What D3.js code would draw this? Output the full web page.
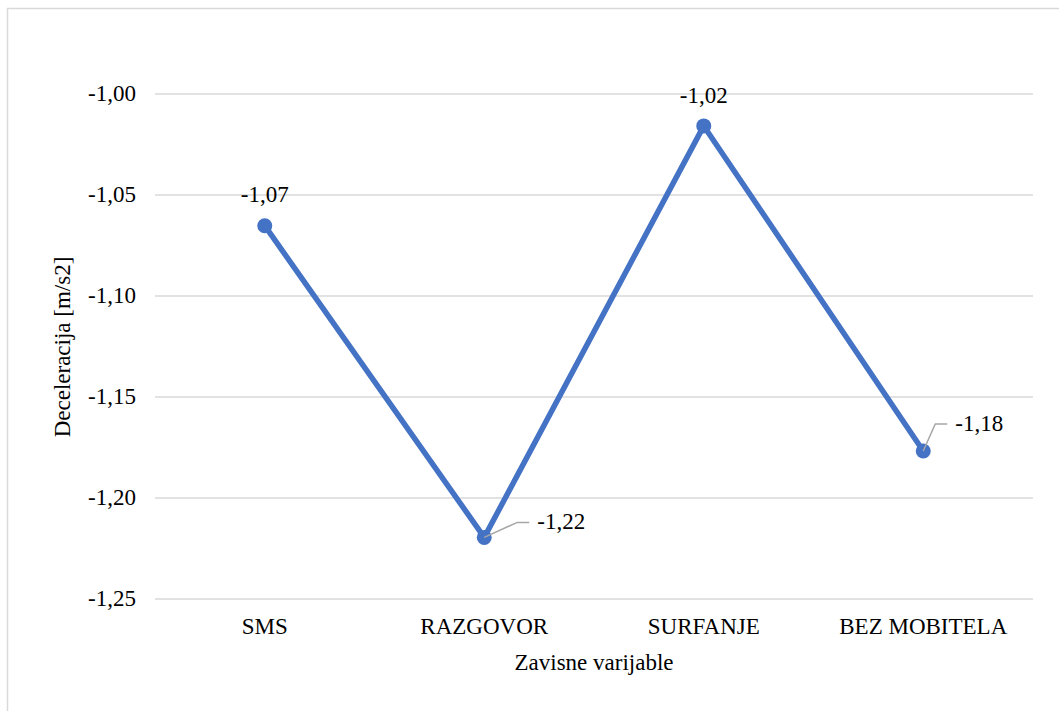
<!DOCTYPE html>
<html>
<head>
<meta charset="utf-8">
<script src="https://cdn.jsdelivr.net/npm/d3@7"></script>
<style>
  body { margin: 0; background: #fff; }
  #chart { position: relative; width: 1059px; height: 711px; overflow: hidden; }
  #chart svg { position: absolute; left: 0; top: 0; display: block; }
</style>
</head>
<body>
<div id="chart"></div>
<script>
'use strict';

// Chart data
const categories = ["SMS", "RAZGOVOR", "SURFANJE", "BEZ MOBITELA"];
const values = [-1.0652, -1.2195, -1.0158, -1.1767];
const yTicks = [-1.25, -1.20, -1.15, -1.10, -1.05, -1.00];
const xTitle = "Zavisne varijable";
const yTitle = "Deceleracija [m/s2]";

const width = 1059;
const height = 711;
const margin = {top: 94, right: 26, bottom: 112, left: 155};

const chart = d3.select("#chart");

const svg = chart.append("svg")
    .attr("width", width)
    .attr("height", height);

// text is laid out as html on top of the svg
const textLayer = chart.append("div")
    .style("position", "absolute")
    .style("left", "0px").style("top", "0px")
    .style("width", width + "px").style("height", height + "px");

// anchor: "start" | "middle" | "end"; y is the vertical centre of the text
function label(px, py, str, anchor, size, rot) {
  const tx = anchor === "end" ? "-100%" : anchor === "middle" ? "-50%" : "0";
  const el = textLayer.append("div")
      .style("position", "absolute")
      .style("white-space", "nowrap")
      .style("left", px + "px")
      .style("top", py + "px")
      .style("color", "#000")
      .style("transform", `translate(${tx},-50%)` + (rot ? ` rotate(${rot}deg)` : ""))
      .style("transform-origin", "50% 50%")
      .text(str);
  el.node().style.font = `${size}px "Liberation Serif"`;
  return el;
}

// outer chart border (cut off at right and bottom)
svg.append("rect")
    .attr("x", 7.5).attr("y", 8.5)
    .attr("width", width + 20).attr("height", height + 20)
    .attr("fill", "none")
    .attr("stroke", "#d9d9d9")
    .attr("stroke-width", 1.5);

const x = d3.scaleBand()
    .domain(categories)
    .range([margin.left, width - margin.right]);

const y = d3.scaleLinear()
    .domain([-1.25, -1.00])
    .range([height - margin.bottom, margin.top]);

const fmt = v => d3.format(".2f")(v).replace(".", ",").replace("−", "-");

// gridlines
svg.append("g")
  .selectAll("line")
  .data(yTicks)
  .join("line")
    .attr("x1", margin.left)
    .attr("x2", width - margin.right)
    .attr("y1", d => y(d))
    .attr("y2", d => y(d))
    .attr("stroke", "#d9d9d9")
    .attr("stroke-width", 1.5);

// y tick labels
yTicks.forEach(t => label(margin.left - 19, y(t), fmt(t), "end", 23));

// category labels
categories.forEach(c => label(x(c) + x.bandwidth() / 2, 627, c, "middle", 23));

// axis titles
label((margin.left + width - margin.right) / 2, 663, xTitle, "middle", 23);
label(63, (y(-1.25) + y(-1.00)) / 2, yTitle, "middle", 23, -90);

// series line
const pts = categories.map((c, i) => ({cat: c, val: values[i]}));

svg.append("path")
    .datum(pts)
    .attr("fill", "none")
    .attr("stroke", "#4472c4")
    .attr("stroke-width", 5.5)
    .attr("stroke-linejoin", "round")
    .attr("d", d3.line()
      .x(d => x(d.cat) + x.bandwidth() / 2)
      .y(d => y(d.val)));

svg.append("g")
  .selectAll("circle")
  .data(pts)
  .join("circle")
    .attr("cx", d => x(d.cat) + x.bandwidth() / 2)
    .attr("cy", d => y(d.val))
    .attr("r", 7.5)
    .attr("fill", "#4472c4");

// data labels: above for first and third, to the right with leader line otherwise
const labelPos = [
  {dx: 0, dy: -31, anchor: "middle", leader: false},
  {dx: 53, dy: -15, anchor: "start", leader: true},
  {dx: 0, dy: -30, anchor: "middle", leader: false},
  {dx: 32, dy: -27, anchor: "start", leader: true}
];

pts.forEach((d, i) => {
  const px = x(d.cat) + x.bandwidth() / 2;
  const py = y(d.val);
  const p = labelPos[i];
  if (p.leader) {
    const ex = px + p.dx - 8;
    const ey = py + p.dy;
    svg.append("path")
        .attr("d", `M${px},${py}L${ex - 12},${ey}H${ex}`)
        .attr("fill", "none")
        .attr("stroke", "#a6a6a6")
        .attr("stroke-width", 1.5);
  }
  label(px + p.dx, py + p.dy, fmt(d.val), p.anchor, 23);
});
</script>
</body>
</html>
